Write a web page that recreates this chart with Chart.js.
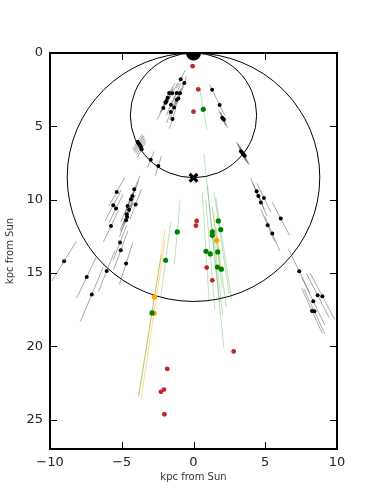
<!DOCTYPE html>
<html><head><meta charset="utf-8">
<script src="https://cdn.jsdelivr.net/npm/chart.js@4/dist/chart.umd.min.js"></script>
<style>html,body{margin:0;padding:0;background:#fff}#wrap{width:390px;height:501px}</style>
</head><body><div id="wrap"><canvas id="c" width="390" height="501"></canvas></div>
<script>
// ---- tick labels ----
const xTicks = [-10, -5, 0, 5, 10];
const yTicks = [0, 5, 10, 15, 20, 25];

// ---- reference markers ----
const sunX = [0], sunY = [0];
const gcX = [0], gcY = [8.5];
// circles (centre x, centre y, radius x, radius y) in kpc
const circleCX = [0, 0];
const circleCY = [4.25, 8.47];
const circleRX = [4.4, 8.8];
const circleRY = [4.25, 8.47];

// ---- black stars (with distance error along line of sight) ----
const blackX = [-0.89,-0.64,-1.7,-1.48,-1.17,-0.94,-1.88,-1.95,-2.1,-1.57,-1.17,-1.05,-1.35,-1.58,-1.46,-1.8,
  1.3,1.82,2.0,2.12,2.06,
  -3.9,-3.84,-3.78,-3.72,-3.66,-3.61,-2.98,-2.45,
  3.3,3.38,3.43,3.5,3.57,
  -5.35,-5.59,-5.4,-5.75,-4.13,-4.26,-4.36,-4.03,-4.59,-4.49,-4.66,-4.63,-4.7,-5.12,-5.07,-4.7,-6.05,-7.44,-7.09,-9.02,
  4.4,4.52,4.91,4.7,6.08,5.17,5.49,7.37,8.65,8.98,8.35,8.26,8.42];
const blackY = [1.79,2.05,2.72,2.75,2.72,2.75,3.27,3.4,3.75,3.52,3.18,3.1,3.72,4.02,4.5,3.05,
  2.5,3.55,4.42,4.55,4.48,
  6.05,6.15,6.2,6.3,6.42,6.56,7.27,7.7,
  6.7,6.78,6.86,6.93,7.0,
  9.47,10.38,10.6,11.8,9.29,9.75,9.97,10.33,10.43,10.68,11.0,11.18,11.4,12.92,13.45,14.36,14.86,15.27,16.47,14.2,
  9.43,9.75,9.88,10.2,11.29,11.75,12.31,14.88,16.52,16.58,16.93,17.59,17.61];
const blackErr = [0.7,0.5,0.8,0.8,0.7,0.8,0.9,0.8,0.9,0.8,0.8,0.7,0.9,0.8,0.7,0.8,
  0.4,0.8,0.6,0.6,0.5,
  0.6,0.6,0.65,0.6,0.6,0.6,0.6,0.7,
  0.7,0.7,0.75,0.7,0.7,
  1.1,1.2,1.1,1.2,1.0,1.1,1.0,1.1,1.2,1.1,1.2,1.1,1.2,1.3,1.4,1.5,1.5,1.6,2.0,1.6,
  1.0,1.0,1.1,1.0,1.3,1.2,1.3,1.7,1.7,1.8,1.8,1.7,1.7];

// ---- red stars (no error bars) ----
const redX = [-0.06,0.33,0,0.22,0.17,0.92,1.31,2.8,-1.83,-2.06,-2.27,-2.03];
const redY = [0.9,2.48,4.0,11.45,11.77,14.63,15.5,20.35,21.54,22.95,23.1,24.63];

// ---- green stars (asymmetric distance errors) ----
const greenX = [0.68,-1.13,-1.94,-2.89,1.73,1.9,1.31,1.31,0.87,1.17,1.69,1.66,1.94];
const greenY = [3.84,12.2,14.13,17.72,11.45,12.04,12.2,12.43,13.52,13.7,13.56,14.59,14.74];
const greenErrLo = [1.3,2.2,2.6,4.0,2.0,2.2,3.2,5.6,4.0,3.7,3.1,2.7,2.8];
const greenErrHi = [1.4,2.2,2.4,5.7,5.0,4.8,4.8,7.7,3.5,3.8,2.5,3.3,2.6];

// ---- orange stars ----
const orangeX = [1.62,-2.73,-2.75];
const orangeY = [12.77,16.63,17.74];
const orangeErrLo = [1.8,4.6,5.0];
const orangeErrHi = [1.8,6.9,5.9];

function pts(xs, ys){ return xs.map((v,i)=>({x:v, y:ys[i]})); }
function losSegments(xs, ys, lo, hi){
  const out = [];
  xs.forEach((x,i)=>{
    const y = ys[i], d = Math.hypot(x,y), ux = x/d, uy = y/d;
    const dn = d - lo[i], df = d + hi[i];
    out.push({x:ux*dn, y:uy*dn}, {x:ux*df, y:uy*df}, {x:null, y:null});
  });
  return out;
}

const decor = {
  id: 'decor',
  beforeDatasetsDraw(chart){
    const {ctx, chartArea:a, scales:{x, y}} = chart;
    ctx.save();
    ctx.beginPath(); ctx.rect(a.left, a.top, a.right-a.left, a.bottom-a.top); ctx.clip();
    ctx.strokeStyle = '#000'; ctx.lineWidth = 1;
    circleCX.forEach((cxv,i)=>{
      const cx = x.getPixelForValue(cxv), cy = y.getPixelForValue(circleCY[i]);
      const rx = Math.abs(x.getPixelForValue(cxv + circleRX[i]) - cx);
      const ry = Math.abs(y.getPixelForValue(circleCY[i] + circleRY[i]) - cy);
      ctx.beginPath(); ctx.ellipse(cx, cy, rx, ry, 0, 0, Math.PI*2); ctx.stroke();
    });
    ctx.restore();
  },
  afterDraw(chart){
    const {ctx, chartArea:a, scales:{x, y}} = chart;
    ctx.save();
    ctx.strokeStyle = '#000';
    ctx.lineWidth = 1;
    const L = 7;
    xTicks.forEach(v=>{
      const px = Math.round(x.getPixelForValue(v)) + 0.5;
      ctx.beginPath(); ctx.moveTo(px, a.bottom); ctx.lineTo(px, a.bottom - L);
      ctx.moveTo(px, a.top); ctx.lineTo(px, a.top + L); ctx.stroke();
    });
    yTicks.forEach(v=>{
      const py = Math.round(y.getPixelForValue(v)) + 0.5;
      ctx.beginPath(); ctx.moveTo(a.left, py); ctx.lineTo(a.left + L, py);
      ctx.moveTo(a.right, py); ctx.lineTo(a.right - L, py); ctx.stroke();
    });
    ctx.lineWidth = 2;
    ctx.strokeRect(a.left, a.top, a.right - a.left, a.bottom - a.top);
    ctx.restore();
  }
};

Chart.defaults.font.family = '"DejaVu Sans", sans-serif';
Chart.defaults.color = '#222';

new Chart(document.getElementById('c'), {
  type: 'scatter',
  data: {
    datasets: [
      {label:'Sun', data: pts(sunX, sunY), pointRadius: 7.5, backgroundColor:'#000', borderWidth:0, clip: 0, order: 0},
      {label:'GC', data: pts(gcX, gcY), pointStyle:'crossRot', pointRadius: 5.5, borderColor:'#000', borderWidth: 3.2, order: 0},
      {label:'black', data: pts(blackX, blackY), pointRadius: 2, backgroundColor:'#000', borderWidth:0, order: 1},
      {label:'red', data: pts(redX, redY), pointRadius: 2.4, backgroundColor:'#c0272d', borderWidth:0, order: 1},
      {label:'green', data: pts(greenX, greenY), pointRadius: 2.6, backgroundColor:'#008000', borderWidth:0, order: 1},
      {label:'orange', data: pts(orangeX, orangeY), pointRadius: 2.6, backgroundColor:'#ffa500', borderWidth:0, order: 1},
      {label:'blackErr', data: losSegments(blackX, blackY, blackErr, blackErr), showLine:true, spanGaps:false, pointRadius:0, borderColor:'rgba(90,90,90,0.75)', borderWidth:0.7, order: 5},
      {label:'greenErr', data: losSegments(greenX, greenY, greenErrLo, greenErrHi), showLine:true, spanGaps:false, pointRadius:0, borderColor:'rgba(0,150,0,0.35)', borderWidth:0.8, order: 5},
      {label:'orangeErr', data: losSegments(orangeX, orangeY, orangeErrLo, orangeErrHi), showLine:true, spanGaps:false, pointRadius:0, borderColor:'rgba(255,165,0,0.55)', borderWidth:0.8, order: 5}
    ]
  },
  options: {
    responsive: false,
    animation: false,
    events: [],
    layout: {padding: {left: 4, right: 53, top: 53, bottom: 18}},
    plugins: {legend: {display:false}, tooltip: {enabled:false}},
    scales: {
      x: {
        type: 'linear', min: -10, max: 10,
        afterBuildTicks: s => { s.ticks = xTicks.map(v=>({value:v})); },
        afterFit: s => { s.height = 501 - 18 - 449; },
        grid: {display: false, drawTicks: false},
        border: {display: false},
        ticks: {padding: 6, font: {size: 13}, color:'#222',
          callback: v => v < 0 ? '\u2212' + Math.abs(v) : String(v)},
        title: {display: true, text: 'kpc from Sun', font: {size: 10}, color:'#333', padding: 0}
      },
      y: {
        type: 'linear', min: 0, max: 27, reverse: true,
        afterBuildTicks: s => { s.ticks = yTicks.map(v=>({value:v})); },
        afterFit: s => { s.width = 46; },
        grid: {display: false, drawTicks: false},
        border: {display: false},
        ticks: {padding: 7, font: {size: 13}, color:'#222'},
        title: {display: true, text: 'kpc from Sun', font: {size: 10}, color:'#333', padding: 0}
      }
    }
  },
  plugins: [decor]
});
</script>
</body></html>
